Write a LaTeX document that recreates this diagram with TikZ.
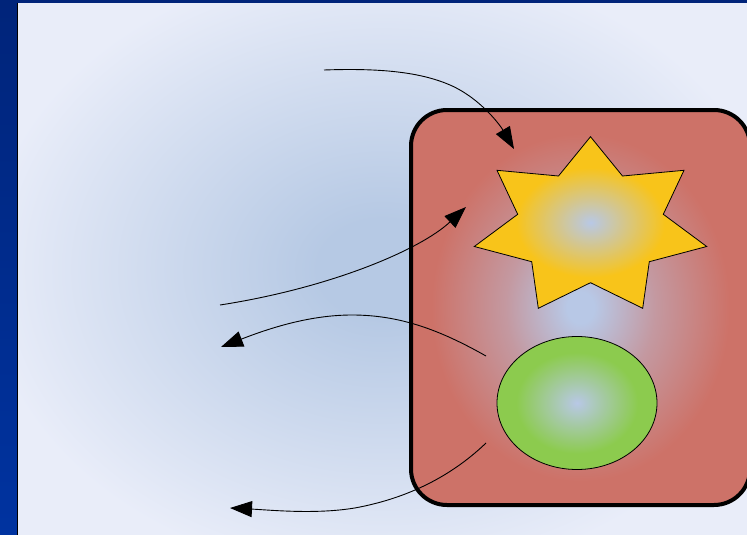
\documentclass[tikz,border=0pt]{standalone}
\usetikzlibrary{arrows.meta,shapes.geometric}
\definecolor{bartop}{HTML}{00247A}
\definecolor{barbot}{HTML}{0033A0}
\definecolor{bgout}{HTML}{E9EDF9}
\definecolor{bgin}{HTML}{B6C9E4}
\definecolor{cblue}{HTML}{B8C8E6}
\definecolor{cred}{HTML}{CD7268}
\definecolor{cyellow}{HTML}{F8C41A}
\definecolor{cgreen}{HTML}{8CCB4E}
\colorlet{cpink}{cred!55!cblue}
\pgfdeclareradialshading{bgshade}{\pgfpoint{0bp}{0bp}}{color(0bp)=(bgin); color(4bp)=(bgin); color(25bp)=(bgout); color(50bp)=(bgout)}
\pgfdeclareradialshading{redshade}{\pgfpoint{0bp}{0bp}}{color(0bp)=(cblue); color(2bp)=(cblue); color(11bp)=(cpink); color(22bp)=(cred); color(50bp)=(cred)}
\pgfdeclareradialshading{starshade}{\pgfpoint{0bp}{0bp}}{color(0bp)=(cblue); color(16bp)=(cyellow); color(50bp)=(cyellow)}
\pgfdeclareradialshading{greenshade}{\pgfpoint{0bp}{0bp}}{color(0bp)=(cblue); color(19bp)=(cgreen); color(50bp)=(cgreen)}
\begin{document}
\begin{tikzpicture}[x=1pt,y=-1pt,
  conn/.style={line width=0.9pt, -{Triangle[length=22pt,width=16pt]}},
  cellbox/.style={draw=black, line width=4pt, rounded corners=36pt, shade, shading=redshade, inner sep=0pt},
  nucleus/.style={ellipse, draw=black, line width=0.8pt, shade, shading=greenshade, inner sep=0pt}]
\useasboundingbox (0,0) rectangle (747,535);
\begin{scope}
\clip (0,0) rectangle (747,535);
% background
\fill[bgout] (0,0) rectangle (747,535);
\shade[shading=bgshade] (382,269) ellipse (400pt and 310pt);
% bars
\shade[top color=bartop, bottom color=barbot] (0,0) rectangle (17,535);
\fill[bartop] (0,0) rectangle (747,3);
\draw[black, line width=1pt] (17.5,3) -- (17.5,535);
% cell
\node[cellbox, minimum width=339pt, minimum height=395pt] (cell) at (580.5,307.5) {};
% star
\shadedraw[shading=starshade, draw=black, line width=0.8pt, line join=miter]
  (590.5,136.7) -- (622.5,176) -- (684,170.3) -- (663.3,214.3) -- (706.7,246.5)
  -- (649.3,261.7) -- (642.7,308.3) -- (590.5,282.7) -- (538.3,308.3)
  -- (531.7,261.7) -- (474.3,246.5) -- (517.7,214.3) -- (497,170.3)
  -- (558.5,176) -- cycle;
\coordinate (star) at (590.5,222.5);
% nucleus
\node[nucleus, minimum width=160pt, minimum height=133pt] (nuc) at (577,403) {};
% arrows
\coordinate (a1s) at (324,70);
\coordinate (a1e) at (514,149);
\coordinate (a2s) at (220,305);
\coordinate (a2e) at (466,207);
\coordinate (a3s) at (486,356);
\coordinate (a3e) at (221,347);
\coordinate (a4s) at (486,443);
\coordinate (a4e) at (230,508);
\draw[conn] (a1s) .. controls (380,68) and (420,72) .. (450,85) .. controls (480,98) and (500,125) .. (a1e);
\draw[conn] (a2s) .. controls (330,288) and (420,250) .. (a2e);
\draw[conn] (a3s) .. controls (440,330) and (400,315) .. (352,315) .. controls (310,315) and (270,328) .. (a3e);
\draw[conn] (a4s) .. controls (460,468) and (420,495) .. (360,507) .. controls (320,515) and (270,510) .. (a4e);
\end{scope}
\end{tikzpicture}
\end{document}
